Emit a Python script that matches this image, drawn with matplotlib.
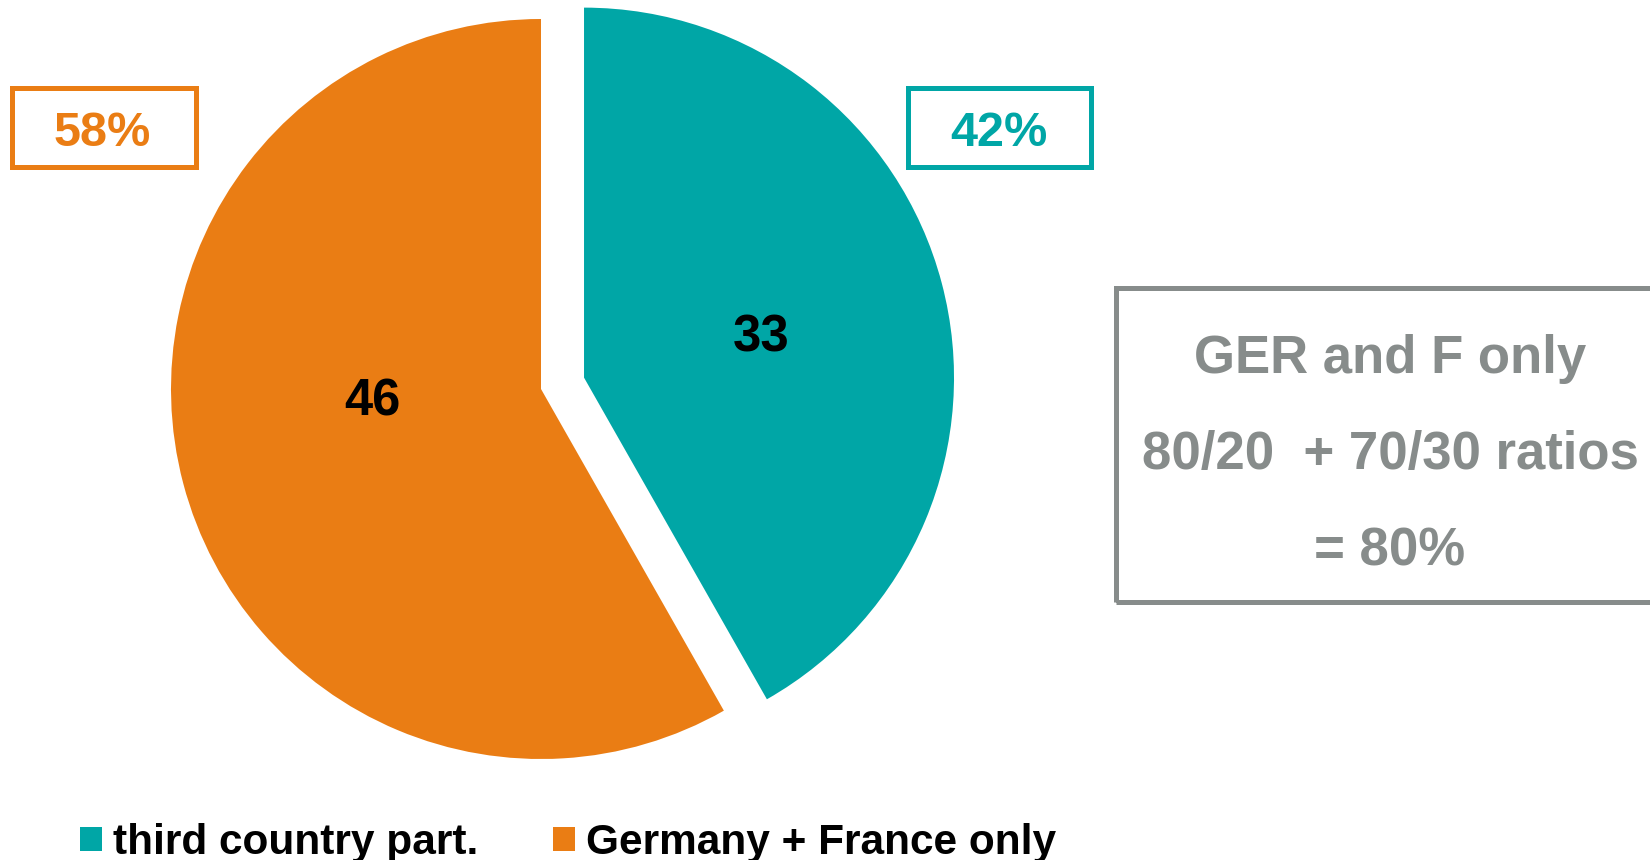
import matplotlib
matplotlib.use('Agg')
import matplotlib.pyplot as plt
from matplotlib.patches import Rectangle

plt.rcParams['font.family'] = ['Liberation Sans', 'DejaVu Sans']
plt.rcParams['font.weight'] = 'bold'

labels = ['third country part.', 'Germany + France only']
values = [33, 46]
colors = ['#00A6A6', '#EA7D14']
note_lines = ['GER and F only', '80/20  + 70/30 ratios', '= 80%']
note_color = '#878C8B'

W, H = 1650, 860
fig = plt.figure(figsize=(W / 100, H / 100), dpi=100)
ax = fig.add_axes([0, 0, 1, 1])

total = sum(values)
# explode is in data units here (pie radius is 370 px)
wedges, texts, autotexts = ax.pie(
    values, colors=colors, startangle=90, counterclock=False,
    explode=[44.5, 0], center=(541, H - 389), radius=370,
    autopct=lambda p: f'{round(p * total / 100)}', pctdistance=0.5,
    labels=labels, labeldistance=None,
    textprops=dict(fontsize=36.5, fontweight='bold', color='black'))

# value labels, placed like the original
autotexts[0].set_position((761, H - 351))
autotexts[1].set_position((372, H - 415))
for t in autotexts:
    t.set_ha('center')
    t.set_va('baseline')

# percent boxes
pct = [f'{round(v / total * 100)}%' for v in values]
boxes = [(908, 88, 1091, 167, 999), (12, 88, 196, 167, 102)]
for (x0, y0, x1, y1, xt), p, c in zip(boxes, pct, colors):
    ax.add_patch(Rectangle((x0, H - y1), x1 - x0, y1 - y0, fill=False,
                           edgecolor=c, linewidth=3.6))
    ax.text(xt, H - 146, p, ha='center', va='baseline', fontsize=35,
            fontweight='bold', color=c)

# note box on the right
ax.add_patch(Rectangle((1116, H - 602), 560, 314, fill=False,
                       edgecolor=note_color, linewidth=3.6, clip_on=True))
for line, yb in zip(note_lines, [373, 469, 566]):
    ax.text(1390, H - yb, line, ha='center', va='baseline', fontsize=38,
            fontweight='bold', color=note_color)

ax.legend(wedges, labels, loc='lower left', bbox_to_anchor=(80 / W, -3 / H),
          ncol=2, frameon=False, fontsize=30.5, handlelength=0.52,
          handleheight=0.52, handletextpad=0.27, columnspacing=1.75,
          borderpad=0, borderaxespad=0)
for t in ax.get_legend().get_texts():
    t.set_fontweight('bold')

ax.set_xlim(0, W)
ax.set_ylim(0, H)
ax.set_aspect('equal')
ax.axis('off')

fig.savefig('out.png', dpi=100)
